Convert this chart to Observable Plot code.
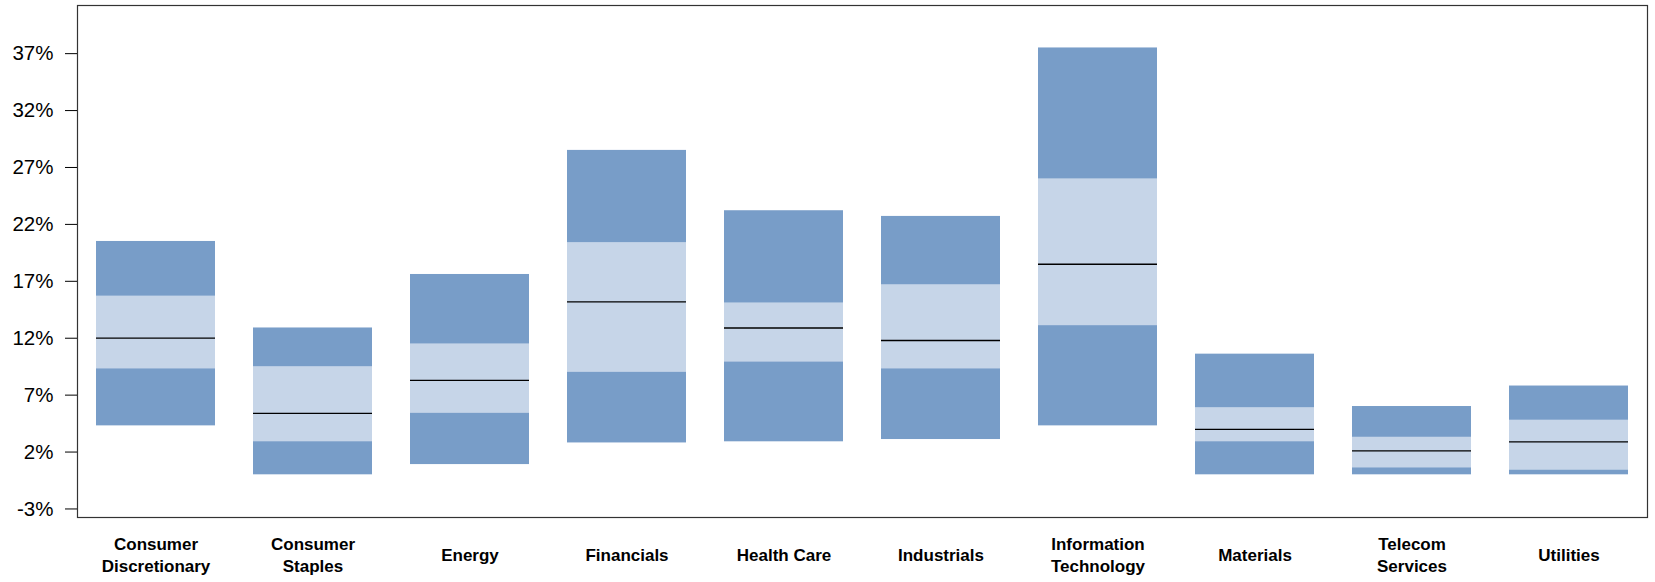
<!DOCTYPE html>
<html>
<head>
<meta charset="utf-8">
<script src="https://cdn.jsdelivr.net/npm/d3@7"></script>
<script src="https://cdn.jsdelivr.net/npm/@observablehq/plot@0.6"></script>
<style>
  html, body { margin: 0; padding: 0; background: #fff; }
  #chart { width: 1655px; height: 582px; }
</style>
</head>
<body>
<div id="chart"></div>
<script>
const sectors = ["Consumer Discretionary", "Consumer Staples", "Energy", "Financials", "Health Care",
  "Industrials", "Information Technology", "Materials", "Telecom Services", "Utilities"];
const sectorLabels = ["Consumer\nDiscretionary", "Consumer\nStaples", "Energy", "Financials", "Health Care",
  "Industrials", "Information\nTechnology", "Materials", "Telecom\nServices", "Utilities"];
const minVals = [4.3, 0.0, 0.9, 2.8, 2.9, 3.1, 4.3, 0.0, 0.0, 0.0];
const q1Vals  = [9.3, 2.9, 5.4, 9.0, 9.9, 9.3, 13.1, 2.9, 0.6, 0.4];
const medVals = [12.0, 5.4, 8.3, 15.2, 12.9, 11.8, 18.5, 4.0, 2.1, 2.9];
const q3Vals  = [15.7, 9.5, 11.5, 20.4, 15.1, 16.7, 26.0, 5.9, 3.3, 4.8];
const maxVals = [20.5, 12.9, 17.6, 28.5, 23.2, 22.7, 37.5, 10.6, 6.0, 7.8];
const yTicks = [-3, 2, 7, 12, 17, 22, 27, 32, 37];

const rows = sectors.map((s, i) => ({
  sector: s, min: minVals[i], q1: q1Vals[i], median: medVals[i], q3: q3Vals[i], max: maxVals[i]
}));
const labelOf = new Map(sectors.map((s, i) => [s, sectorLabels[i]]));

const chart = Plot.plot({
  width: 1655,
  height: 582,
  marginLeft: 77,
  marginRight: 8,
  marginTop: 5,
  marginBottom: 65,
  style: { fontFamily: "'Liberation Sans', Arial, sans-serif", background: "#fff", color: "#000" },
  x: { domain: sectors, paddingInner: 0.24, paddingOuter: 0.12 },
  y: { domain: [-3.75, 41.23] },
  marks: [
    Plot.barY(rows, { x: "sector", y1: "min", y2: "max", fill: "#789DC8" }),
    Plot.barY(rows, { x: "sector", y1: "q1", y2: "q3", fill: "#C6D5E8" }),
    Plot.tickY(rows, { x: "sector", y: "median", stroke: "#000", strokeWidth: 1.3 }),
    Plot.frame({ stroke: "#333", strokeWidth: 1.2 }),
    Plot.axisY({ ticks: yTicks, tickFormat: d => d + "%", tickSize: 12, tickPadding: 12,
      fontSize: 20.5, label: null, stroke: "#000" }),
    Plot.axisX({ tickSize: 0, tickPadding: 36, lineAnchor: "middle", lineHeight: 1.3,
      fontSize: 17, fontWeight: "bold", label: null, tickFormat: d => labelOf.get(d) })
  ]
});
document.getElementById("chart").appendChild(chart);
</script>
</body>
</html>
